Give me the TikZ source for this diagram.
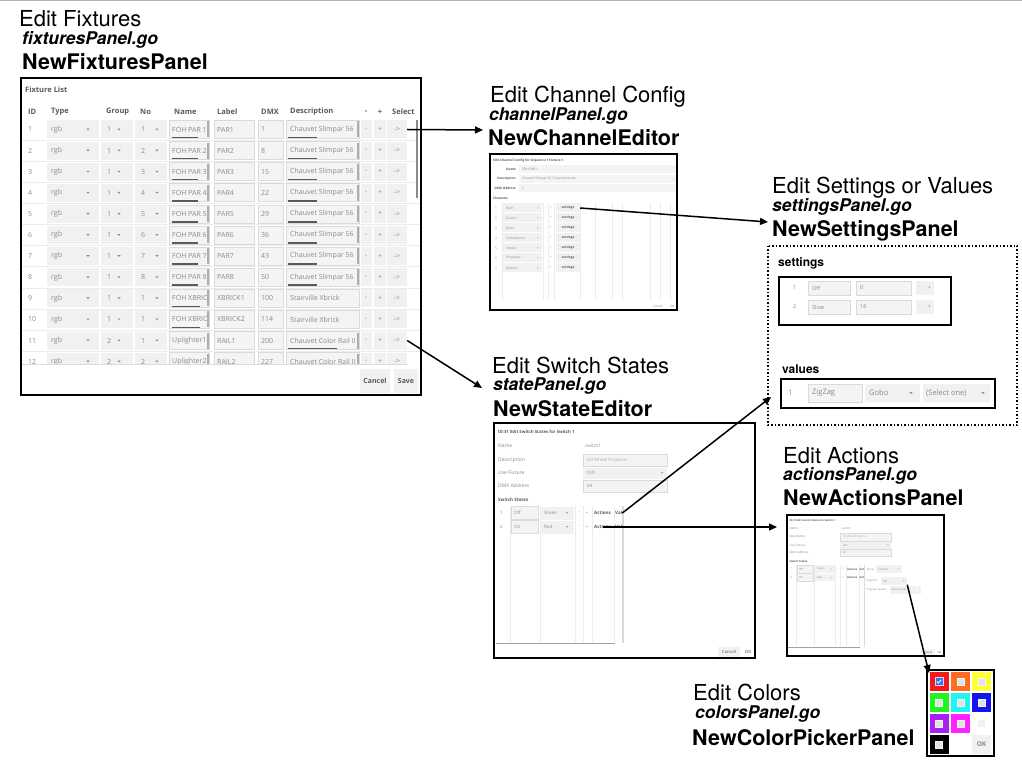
\documentclass[tikz,border=0pt]{standalone}
\usepackage{fontspec}
\usepackage{tikz}
\usetikzlibrary{arrows.meta}
\newfontfamily\heros{TeX Gyre Heros}
\newfontfamily\uifont{Open Sans}

\definecolor{uigray}{HTML}{8A8A8A}
\definecolor{uilight}{HTML}{A8A8A8}
\definecolor{uidark}{HTML}{5A5A5A}
\definecolor{fieldbg}{HTML}{F4F4F4}
\definecolor{fieldline}{HTML}{DADADA}
\definecolor{dropbg}{HTML}{F1F1F1}
\definecolor{gridline}{HTML}{ECECEC}
\definecolor{cred}{HTML}{F21A1A}
\definecolor{corange}{HTML}{FF6C24}
\definecolor{cyellow}{HTML}{FFFF3A}
\definecolor{cgreen}{HTML}{22F422}
\definecolor{ccyan}{HTML}{22F4F4}
\definecolor{cblue}{HTML}{1414EE}
\definecolor{cpurple}{HTML}{A622F0}
\definecolor{cmagenta}{HTML}{FF22FF}
\definecolor{checkblue}{HTML}{3A74E8}
\definecolor{boxgray}{HTML}{E2E2E2}

\tikzset{
  edittitle/.style = {font=\heros\fontsize{22}{22}\selectfont, anchor=base west, inner sep=0pt},
  gofile/.style = {font=\heros\bfseries\itshape\fontsize{17.5}{17.5}\selectfont, anchor=base west, inner sep=0pt},
  ctor/.style = {font=\heros\bfseries\fontsize{21.5}{21.5}\selectfont, anchor=base west, inner sep=0pt},
  grplbl/.style = {font=\heros\bfseries\fontsize{12}{12}\selectfont, anchor=west, inner sep=0pt},
  panel/.style = {draw=black, line width=2pt, fill=white},
  ui/.style = {font=\uifont\fontsize{#1}{#1}\selectfont, text=uigray, inner sep=0pt, anchor=west},
  ui/.default = 7,
  uib/.style = {font=\uifont\bfseries\fontsize{#1}{#1}\selectfont, text=uidark, inner sep=0pt, anchor=west},
  uib/.default = 7.5,
  field/.style = {fill=fieldbg, draw=fieldline, line width=0.6pt},
  drop/.style = {fill=dropbg},
  link/.style = {-{Triangle[length=8pt, width=7pt]}, line width=1.5pt},
  swatch/.style = {minimum width=19pt, minimum height=19pt, inner sep=0pt},
  inbox/.style = {fill=boxgray, draw=white!70!boxgray, line width=1pt, minimum size=7pt, inner sep=0pt},
  dd/.pic = {\fill[uigray] (-1.6,-0.9) -- (1.6,-0.9) -- (0,0.9) -- cycle;},
}

% switch states form, drawn once as it is and once small in the actions panel
\newcommand\stateform{%
  \draw[panel] (494,423) rectangle (755,658);
  \node[uib=4.3] (title) at (498,432) {ID:31 Edit Switch States for Switch 1};
  \node[ui=5] (lname) at (498,446) {Name};
  \node[ui=5] (ldesc) at (498,460) {Description};
  \node[ui=5] (lfix) at (498,473) {Use Fixture};
  \node[ui=5] (ldmx) at (498,486) {DMX Address};
  \node[ui=4.5] (vname) at (585,446) {switch1};
  \draw[field] (583,454) rectangle (667,466);
  \node[ui=4.5, text=uilight] (vdesc) at (587,460) {Oil Wheel Projector};
  \fill[dropbg] (583,467.5) rectangle (667,479);
  \node[ui=4.5] (vfix) at (587,473) {Oil1};
  \pic[scale=0.7] at (662,473) {dd};
  \draw[field] (583,480.5) rectangle (667,492);
  \node[ui=4.5] (vdmx) at (587,486) {69};
  \node[uib=4.5] (lstates) at (498,500) {Switch States};
  \foreach \x in {510,540,575,583,592,614}
    \draw[gridline, line width=0.5pt] (\x,506) -- (\x,642);
  \draw[uigray!80, line width=0.8pt] (496,643) -- (615,643);
  \foreach \k/\st/\co in {1/Off/Green, 2/On/Red}{
    \pgfmathsetmacro\y{513+14*(\k-1)}
    \node[ui=4.5] (num\k) at (500,\y) {\k};
    \draw[field] (511,\y-6.5) rectangle (538,\y+6.5);
    \node[ui=4.5] (st\k) at (514,\y) {\st};
    \fill[dropbg] (541,\y-6.5) rectangle (574,\y+6.5);
    \node[ui=4.5] (co\k) at (544,\y) {\co};
    \pic[scale=0.7] at (567,\y) {dd};
    \node[ui=4.5, anchor=center] (mi\k) at (579,\y) {-};
    \node[ui=4.5, anchor=center] (pl\k) at (587,\y) {+};
    \node[uib=4.5] (act\k) at (594,\y) {Actions};
    \node[uib=4.5] (val\k) at (615,\y) {Val};
  }
  \draw[fieldline, line width=1.5pt] (623,506) -- (623,643);
  \node[drop, uib=4.3, text=uigray, anchor=center, minimum width=22pt, minimum height=10pt] (cancel) at (729,652) {Cancel};
  \node[uib=4.3, text=uigray, anchor=center] (ok) at (748,652) {OK};
}

\begin{document}
\begin{tikzpicture}[x=1pt, y=-1pt]
\useasboundingbox (0,0) rectangle (1022,767);
\draw[gray!60, line width=1pt] (0,0.5) -- (1022,0.5);

% fixtures
\node[edittitle] (fixt) at (19,27) {Edit Fixtures};
\node[gofile] (fixf) at (22,44.5) {fixturesPanel.go};
\node[ctor] (fixc) at (22,70) {NewFixturesPanel};
\draw[panel] (21,78) rectangle (421,395);
\node[uib] (fixlist) at (25,90) {Fixture List};
\node[uib] (hid) at (28,112) {ID};
\node[uib] (htype) at (51,112) {Type};
\node[uib] (hgroup) at (106,112) {Group};
\node[uib] (hno) at (140,112) {No};
\node[uib] (hname) at (174,112) {Name};
\node[uib] (hlabel) at (217,112) {Label};
\node[uib] (hdmx) at (261,112) {DMX};
\node[uib] (hdesc) at (290,112) {Description};
\node[uib, anchor=center] (hminus) at (366,112) {-};
\node[uib, anchor=center] (hplus) at (380,112) {+};
\node[uib] (hsel) at (392,112) {Select};
\begin{scope}
  \clip (22,119) rectangle (420,364);
  \foreach \i/\gr/\no/\nm/\lb/\dm/\ds/\nw/\dw in {
    1/1/1/FOH PAR 1/PAR1/1/Chauvet Slimpar 56/26/29,
    2/1/2/FOH PAR 2/PAR2/8/Chauvet Slimpar 56/26/29,
    3/1/3/FOH PAR 3/PAR3/15/Chauvet Slimpar 56/26/29,
    4/1/4/FOH PAR 4/PAR4/22/Chauvet Slimpar 56/26/29,
    5/1/5/FOH PAR 5/PAR5/29/Chauvet Slimpar 56/26/29,
    6/1/6/FOH PAR 6/PAR6/36/Chauvet Slimpar 56/26/29,
    7/1/7/FOH PAR 7/PAR7/43/Chauvet Slimpar 56/26/29,
    8/1/8/FOH PAR 8/PAR8/50/Chauvet Slimpar 56/26/29,
    9/1/1/FOH XBRIC/XBRICK1/100/Stairville Xbrick/28/0,
    10/1/1/FOH XBRIC/XBRICK2/114/Stairville Xbrick/28/0,
    11/2/1/Uplighter1/RAIL1/200/Chauvet Color Rail II/0/49,
    12/2/2/Uplighter2/RAIL2/227/Chauvet Color Rail II/0/49}
  {
    \pgfmathsetmacro\y{129.5+21.1*(\i-1)}
    \draw[gridline] (22,\y+10.5) -- (420,\y+10.5);
    \fill[dropbg] (47,\y-9) rectangle (99,\y+9);
    \fill[dropbg] (101,\y-9) rectangle (133,\y+9);
    \fill[dropbg] (135,\y-9) rectangle (167,\y+9);
    \draw[field] (169,\y-9) rectangle (209,\y+9);
    \draw[field] (214,\y-9) rectangle (254,\y+9);
    \draw[field] (258,\y-9) rectangle (283,\y+9);
    \draw[field] (286,\y-9) rectangle (359,\y+9);
    \fill[dropbg] (361,\y-9) rectangle (372,\y+9);
    \fill[dropbg] (374,\y-9) rectangle (386,\y+9);
    \node[ui] (id\i) at (28,\y) {\i};
    \node[ui] (type\i) at (51,\y) {rgb};
    \pic at (88,\y) {dd};
    \node[ui] (grp\i) at (107,\y) {\gr};
    \pic at (119,\y) {dd};
    \node[ui] (no\i) at (141,\y) {\no};
    \pic at (157,\y) {dd};
    \begin{scope}
      \clip (169,\y-9) rectangle (208,\y+9);
      \node[ui] (name\i) at (172,\y) {\nm};
    \end{scope}
    \draw[uigray!70, line width=1.5pt] (208,\y-8) -- (208,\y+8);
    \draw[uidark, line width=1.5pt] (172,\y+8) -- +(\nw,0);
    \node[ui] (label\i) at (217,\y) {\lb};
    \node[ui] (dmx\i) at (261,\y) {\dm};
    \begin{scope}
      \clip (286,\y-9) rectangle (358,\y+9);
      \node[ui] (desc\i) at (290,\y) {\ds};
    \end{scope}
    \ifnum\dw>0 \draw[uigray!70, line width=1.5pt] (358,\y-8) -- (358,\y+8); \fi
    \draw[uidark, line width=1.5pt] (288,\y+8) -- +(\dw,0);
    \node[ui, anchor=center] (minus\i) at (366,\y) {-};
    \node[ui, anchor=center] (plus\i) at (380,\y) {+};
    \node[drop, ui, anchor=center, minimum width=20pt, minimum height=18pt] (sel\i) at (397,\y) {->};
  }
\end{scope}
\draw[uigray, line width=1.2pt] (417,120) -- (417,198);
\draw[fieldline, line width=1pt] (22,364) -- (408,364);
\node[drop, uib=7, anchor=center, minimum width=30pt, minimum height=24pt] (fixcancel) at (375,381) {Cancel};
\node[drop, uib=7, anchor=center, minimum width=24pt, minimum height=24pt] (fixsave) at (406,381) {Save};

% channel config
\node[edittitle] (cht) at (490,103) {Edit Channel Config};
\node[gofile] (chf) at (489,121) {channelPanel.go};
\node[ctor] (chc) at (488,146) {NewChannelEditor};
\draw[panel] (490,154) rectangle (677,310);
\node[uib=3.2] (chtitle) at (493,161) {Edit Channel Config for Sequence 1 Fixture 1};
\node[uib=3.2, anchor=east] (chname) at (516,169) {Name};
\fill[fieldbg] (519,165) rectangle (676,173);
\node[ui=3.2] (chnamev) at (522,169) {FOH PAR 1};
\node[uib=3.2, anchor=east] (chdesc) at (516,179) {Description};
\fill[fieldbg] (519,175) rectangle (676,183);
\node[ui=3.2] (chdescv) at (522,179) {Chauvet Slimpar 56 7 channel mode};
\node[uib=3.2, anchor=east] (chdmx) at (516,188) {DMX Address};
\fill[fieldbg] (519,184) rectangle (676,192);
\node[ui=3.2] (chdmxv) at (522,188) {1};
\node[uib=3.2] (chchan) at (493,198) {Channels};
\foreach \x in {502,543,548,554,580,595,612,622,650,660,670}
  \draw[gridline, line width=0.5pt] (\x,203) -- (\x,300);
\foreach \k/\ch in {1/Red1, 2/Green1, 3/Blue1, 4/ColorMacros, 5/Strobe, 6/Programs, 7/Dimmer}{
  \pgfmathsetmacro\y{208+10*(\k-1)}
  \node[ui=3.2] (chn\k) at (495,\y) {\k};
  \fill[dropbg] (503,\y-4.5) rectangle (542,\y+4.5);
  \node[ui=3.2] (ch\k) at (506,\y) {\ch};
  \pic[scale=0.5] at (538,\y) {dd};
  \node[ui=3.2, anchor=center] (chm\k) at (546,\y) {-};
  \node[ui=3.2, anchor=center] (chp\k) at (551,\y) {+};
  \node[drop, uib=3.2, anchor=center, minimum width=24pt, minimum height=9pt] (set\k) at (568,\y) {settings};
}
\node[ui=3.2] (chcancel) at (653,306) {Cancel};
\node[ui=3.2] (chok) at (670,306) {OK};

% settings or values
\node[edittitle] (sett) at (772,194) {Edit Settings or Values};
\node[gofile] (setf) at (772,212) {settingsPanel.go};
\node[ctor] (setc) at (772,237) {NewSettingsPanel};
\draw[dotted, line width=1.5pt] (768,246) rectangle (1017,425);
\node[grplbl] (setlbl) at (778,263) {settings};
\draw[panel] (779,277) rectangle (951,325);
\foreach \k/\nm/\vl in {1/Off/0, 2/Slow/16}{
  \pgfmathsetmacro\y{288+19*(\k-1)}
  \node[ui=5.5] (sn\k) at (793,\y) {\k};
  \draw[field] (808,\y-7) rectangle (850,\y+7);
  \node[ui=5.5] (sname\k) at (812,\y) {\nm};
  \draw[field] (856,\y-7) rectangle (911,\y+7);
  \node[ui=5.5] (sval\k) at (860,\y) {\vl};
  \node[drop, ui=5.5, anchor=center, minimum width=9pt, minimum height=14pt] (sm\k) at (920,\y) {-};
  \node[drop, ui=5.5, anchor=center, minimum width=9pt, minimum height=14pt] (sp\k) at (929.5,\y) {+};
}
\node[grplbl] (vallbl) at (782,369) {values};
\draw[panel] (781,379) rectangle (995,408);
\node[ui=7.5] (vn1) at (788,393) {1};
\draw[field] (808,384) rectangle (862,402);
\node[ui=7.5] (vname1) at (812,393) {ZigZag};
\fill[dropbg] (865,384) rectangle (920,402);
\node[ui=7.5] (vtype1) at (869,393) {Gobo};
\pic at (911,393) {dd};
\fill[dropbg] (923,384) rectangle (990,402);
\node[ui=7.5] (vsel1) at (926,393) {(Select one)};
\pic at (983,393) {dd};

% switch states
\node[edittitle] (stt) at (492,373) {Edit Switch States};
\node[gofile] (stf) at (493,390) {statePanel.go};
\node[ctor] (stc) at (493,416) {NewStateEditor};
\begin{scope}[name prefix=se-]
  \stateform
\end{scope}

% actions
\node[edittitle] (actt) at (783,463) {Edit Actions};
\node[gofile] (actf) at (783,480) {actionsPanel.go};
\node[ctor] (actc) at (783,505) {NewActionsPanel};
\begin{scope}[name prefix=ae-, shift={(787,515)}, scale=0.6, shift={(-494,-423)}, transform shape]
  \stateform
  \node[ui=4.5] (mode) at (627,513) {Mode};
  \fill[dropbg] (643,507) rectangle (686,519);
  \node[ui=4.5] (modev) at (646,513) {Control};
  \pic[scale=0.7] at (680,513) {dd};
  \node[ui=4.5] (prg) at (626,533) {Program};
  \node[drop, minimum width=43pt, minimum height=12pt, anchor=west, inner sep=0pt] (prog) at (651,533) {};
  \node[ui=4.5] (progv) at (654,533) {Off};
  \pic[scale=0.7] at (688,533) {dd};
  \node[ui=4.5] (spd) at (626,548) {Program Speed};
  \fill[dropbg] (666,542) rectangle (709,554);
  \node[ui=4.5] (spdv) at (668,548) {(Select one)};
  \fill[dropbg] (711,542) rectangle (718,554);
\end{scope}

% colors
\node[edittitle] (colt) at (693,700) {Edit Colors};
\node[gofile] (colf) at (695,718) {colorsPanel.go};
\node[ctor] (colc) at (692,745) {NewColorPickerPanel};
\draw[panel] (927,670) rectangle (994,756);
\foreach \c/\x/\y/\n in {cred/939/681.5/1, corange/960.5/681.5/2, cyellow/981.5/681.5/3,
    cgreen/939/702.5/4, ccyan/960.5/702.5/5, cblue/981.5/702.5/6,
    cpurple/939/723.5/7, cmagenta/960.5/723.5/8, black/939/744.5/10}
  \node[swatch, fill=\c] (sw\n) at (\x,\y) {};
\foreach \n in {2,3,4,5,6,7,8,10}
  \node[inbox] (chk\n) at (sw\n) {};
\node[fill=checkblue, draw=white!75!checkblue, line width=0.8pt, minimum size=8pt, inner sep=0pt] (chk1) at (sw1) {};
\draw[white, line width=0.9pt] (chk1.center) ++(-2.2,0) -- ++(1.5,1.5) -- ++(2.9,-3.2);
\node[fill=gray!12, minimum size=7pt, inner sep=0pt] (chk9) at (981.5,723.5) {};
\node[drop, uib=6.5, text=uigray, anchor=center, minimum width=19pt, minimum height=19pt] (colok) at (981.5,744.5) {OK};

% connectors
\coordinate (chanin) at (483,130);
\coordinate (statein) at (482,388);
\coordinate (setin) at (768,222);
\coordinate (valin) at (771,397);
\coordinate (actin) at (777,527);
\coordinate (colin) at (929,673);
\draw[link] (sel1.east) -- (chanin);
\draw[link] (sel11.east) -- (statein);
\draw[link] (set1.east) -- (setin);
\draw[link] (se-val1.east) -- (valin);
\draw[link] (se-act2.center) -- (actin);
\draw[link] (ae-prog.south east) -- (colin);
\end{tikzpicture}
\end{document}
